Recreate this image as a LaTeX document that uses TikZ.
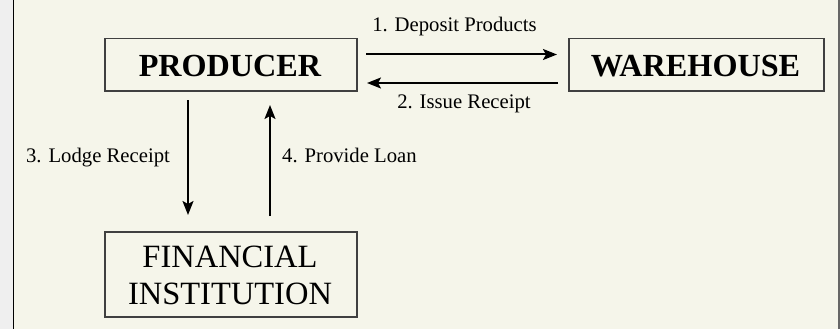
\documentclass[tikz,border=0pt]{standalone}
\usepackage{fontspec}
\setmainfont{Liberation Serif}
\usetikzlibrary{arrows.meta}
\definecolor{bgc}{HTML}{F5F5EA}
\definecolor{stripc}{HTML}{EFEFEF}
\definecolor{boxc}{HTML}{404040}
\tikzset{
  x=1pt,y=-1pt,
  entity/.style={draw=boxc,line width=1.5pt,inner sep=0pt,anchor=north west},
  flow/.style={line width=2pt,-{Stealth[length=14pt,width=11pt,inset=3pt]}},
  lbl/.style={font=\fontsize{20.7}{24}\selectfont,inner sep=0pt,anchor=base},
  bigb/.style={font=\fontsize{32.2}{37}\selectfont\bfseries},
  bigr/.style={font=\fontsize{32.5}{37}\selectfont}
}
\begin{document}
\begin{tikzpicture}
\useasboundingbox (0,0) rectangle (840,329);
\fill[stripc] (0,0) rectangle (13.5,329);
\fill[bgc] (13.5,0) rectangle (839,329);
\draw[black,line width=1.5pt] (13.5,0) -- (13.5,329);
\draw[gray!80!black,line width=1.5pt] (839,0) -- (839,329);
% boxes
\node[entity,minimum width=252pt,minimum height=52pt] (prod) at (104,38) {};
\node[bigb,anchor=base] (prodt) at (230,76) {PRODUCER};
\node[entity,minimum width=255pt,minimum height=52pt] (ware) at (568,38) {};
\node[bigb,anchor=base] (waret) at (695.5,76) {WAREHOUSE};
\node[entity,minimum width=252pt,minimum height=85pt] (fin) at (104,231) {};
\node[bigr,anchor=base] (fint1) at (230,267) {FINANCIAL};
\node[bigr,anchor=base] (fint2) at (230,304) {INSTITUTION};
% arrow endpoints
\coordinate (a1s) at (366,54.5);
\coordinate (a1e) at (557,54.5);
\coordinate (a2s) at (558,83);
\coordinate (a2e) at (367,83);
\coordinate (a3s) at (188,100);
\coordinate (a3e) at (188,215);
\coordinate (a4s) at (270,216);
\coordinate (a4e) at (270,105);
\draw[flow] (a1s) -- (a1e);
\draw[flow] (a2s) -- (a2e);
\draw[flow] (a3s) -- (a3e);
\draw[flow] (a4s) -- (a4e);
% labels
\node[lbl] (l1) at (454.5,32) {1. Deposit Products};
\node[lbl] (l2) at (464,108) {2. Issue Receipt};
\node[lbl] (l3) at (98,162) {3. Lodge Receipt};
\node[lbl,anchor=base west] (l4) at (282,162) {4. Provide Loan};
\end{tikzpicture}
\end{document}
